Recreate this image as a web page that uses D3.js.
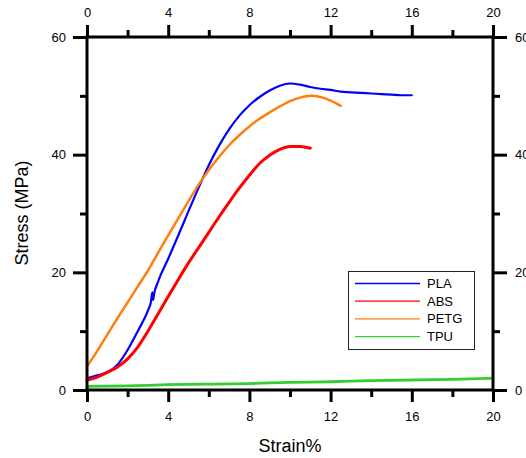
<!DOCTYPE html>
<html>
<head>
<meta charset="utf-8">
<script src="https://cdn.jsdelivr.net/npm/d3@7"></script>
<style>
  html, body { margin: 0; padding: 0; background: #fff; }
  svg { display: block; }
  text { font-family: "Liberation Sans", Arial, sans-serif; fill: #000; }
</style>
</head>
<body>
<svg id="chart" width="526" height="458"></svg>
<script>
// ---- data ----
const xTicks = [0, 4, 8, 12, 16, 20];
const xMinor = [2, 6, 10, 14, 18];
const yTicks = [0, 20, 40, 60];
const yMinor = [10, 30, 50];
const seriesNames = ["PLA", "ABS", "PETG", "TPU"];
const seriesColors = ["#0000ff", "#ff0000", "#ff7f0e", "#33cc33"];

const plaStrain = [0,0.5,1,1.5,2,2.5,3,3.15,3.22,3.26,3.3,3.5,4,4.5,5,5.5,6,6.5,7,7.5,8,8.5,9,9.5,10,10.5,11,11.5,12,12.5,13,13.5,14,14.5,15,15.5,16];
const plaStress = [2.0,2.5,3.0,4.3,6.8,10.0,13.5,15.0,16.6,15.3,16.2,18.4,22.3,26.3,30.4,34.4,38.2,41.5,44.3,46.6,48.4,49.8,50.9,51.7,52.1,51.9,51.5,51.2,51.0,50.7,50.6,50.5,50.4,50.3,50.2,50.1,50.1];

const absStrain = [0,0.5,1,1.5,2,2.5,3,3.5,4,4.5,5,5.5,6,6.5,7,7.5,8,8.5,9,9.5,10,10.5,11];
const absStress = [1.7,2.2,3.0,3.9,5.3,7.3,10.0,12.9,15.9,18.8,21.6,24.2,26.8,29.4,31.9,34.3,36.5,38.5,39.9,40.9,41.4,41.4,41.1];

const petgStrain = [0,0.5,1,1.5,2,2.5,3,3.5,4,4.5,5,5.5,6,6.5,7,7.5,8,8.5,9,9.5,10,10.5,11,11.5,12,12.5];
const petgStress = [4.0,6.6,9.4,12.2,14.9,17.6,20.3,23.3,26.3,29.2,32.1,34.9,37.4,39.6,41.6,43.3,44.8,46.1,47.2,48.2,49.1,49.7,50.0,49.8,49.2,48.3];

const tpuStrain = [0,2,4,6,8,10,12,14,16,18,20];
const tpuStress = [0.6,0.7,0.9,1.0,1.1,1.3,1.4,1.6,1.7,1.8,2.0];

// ---- layout ----
const svg = d3.select("#chart");
const x = d3.scaleLinear().domain([0, 20]).range([87, 493]);
const y = d3.scaleLinear().domain([0, 60]).range([390, 37]);

const series = [
  {name: "PLA", xs: plaStrain, ys: plaStress, w: 2.2},
  {name: "ABS", xs: absStrain, ys: absStress, w: 3},
  {name: "PETG", xs: petgStrain, ys: petgStress, w: 2.5},
  {name: "TPU", xs: tpuStrain, ys: tpuStress, w: 2.8}
];

const line = d3.line().x(d => x(d[0])).y(d => y(d[1])).curve(d3.curveMonotoneX);

series.forEach((s) => {
  const pts = s.xs.map((v, k) => [v, s.ys[k]]);
  svg.append("path")
    .attr("d", line(pts))
    .attr("fill", "none")
    .attr("stroke", seriesColors[seriesNames.indexOf(s.name)])
    .attr("stroke-width", s.w)
    .attr("stroke-linejoin", "round")
    .attr("stroke-linecap", "round");
});

// ---- axes ----
function styleAxis(g) {
  g.select(".domain").remove();
  g.selectAll(".tick line").attr("stroke", "#000").attr("stroke-width", 3);
  g.selectAll(".tick text").attr("font-size", 13).attr("font-family", "Liberation Sans, Arial, sans-serif");
}
function minorAxis(g) {
  g.select(".domain").remove();
  g.selectAll(".tick line").attr("stroke", "#000").attr("stroke-width", 3);
  g.selectAll(".tick text").remove();
}

svg.append("g").attr("transform", "translate(0,390)")
  .call(d3.axisBottom(x).tickValues(xTicks).tickSize(12).tickPadding(10).tickFormat(d3.format("d"))).call(styleAxis);
svg.append("g").attr("transform", "translate(0,390)")
  .call(d3.axisBottom(x).tickValues(xMinor).tickSize(7)).call(minorAxis);
svg.append("g").attr("transform", "translate(0,37)")
  .call(d3.axisTop(x).tickValues(xTicks).tickSize(12).tickPadding(8).tickFormat(d3.format("d"))).call(styleAxis);
svg.append("g").attr("transform", "translate(0,37)")
  .call(d3.axisTop(x).tickValues(xMinor).tickSize(7)).call(minorAxis);
svg.append("g").attr("transform", "translate(87,0)")
  .call(d3.axisLeft(y).tickValues(yTicks).tickSize(14).tickPadding(7).tickFormat(d3.format("d"))).call(styleAxis);
svg.append("g").attr("transform", "translate(87,0)")
  .call(d3.axisLeft(y).tickValues(yMinor).tickSize(7)).call(minorAxis);
svg.append("g").attr("transform", "translate(493,0)")
  .call(d3.axisRight(y).tickValues(yTicks).tickSize(14).tickPadding(8).tickFormat(d3.format("d"))).call(styleAxis);
svg.append("g").attr("transform", "translate(493,0)")
  .call(d3.axisRight(y).tickValues(yMinor).tickSize(7)).call(minorAxis);

// frame
svg.append("rect")
  .attr("x", x(0)).attr("y", y(60))
  .attr("width", x(20) - x(0)).attr("height", y(0) - y(60))
  .attr("fill", "none").attr("stroke", "#000").attr("stroke-width", 3);

// axis titles
svg.append("text").attr("x", 290).attr("y", 452).attr("text-anchor", "middle")
  .attr("font-size", 18).text("Strain%");
svg.append("text").attr("transform", "translate(28,213) rotate(-90)").attr("text-anchor", "middle")
  .attr("font-size", 18).text("Stress (MPa)");

// legend
const lg = svg.append("g");
lg.append("rect").attr("x", 348.5).attr("y", 271.5).attr("width", 126).attr("height", 78)
  .attr("fill", "#fff").attr("stroke", "#222").attr("stroke-width", 1);
seriesNames.forEach((n, i) => {
  const yy = 283.5 + i * 17.7;
  lg.append("line").attr("x1", 355).attr("x2", 420).attr("y1", yy).attr("y2", yy)
    .attr("stroke", seriesColors[i]).attr("stroke-width", 1.3);
  lg.append("text").attr("x", 427).attr("y", yy + 4.5).attr("font-size", 13).text(n);
});
</script>
</body>
</html>
